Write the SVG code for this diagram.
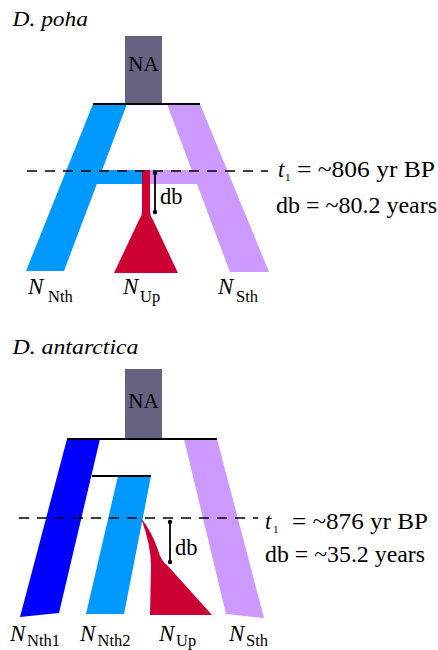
<svg xmlns="http://www.w3.org/2000/svg" width="438" height="650" viewBox="0 0 438 650">
<style>
text{font-family:"Liberation Serif","Times New Roman",serif;fill:#000}
.it{font-style:italic}
.t{font-size:22.5px}
.ttl{font-size:22px;font-style:italic}
.n{font-size:23px;font-style:italic}
.s{font-size:16.5px}
.na{fill:#646482}
.dash{stroke:#000;stroke-width:1.3;stroke-dasharray:10 8;fill:none}
.bar{stroke:#000;stroke-width:1.8;fill:none}
.db{stroke:#000;stroke-width:1.8}
</style>
<rect width="438" height="650" fill="#fff"/>

<!-- Top panel: D. poha -->
<text class="ttl" x="12.5" y="26" textLength="75.5" lengthAdjust="spacingAndGlyphs">D. poha</text>
<g id="poha-NA">
<rect class="na" x="125" y="36" width="37" height="68.5"/>
<text x="143.5" y="71" text-anchor="middle" font-size="21">NA</text>
</g>
<g id="poha-Nth">
<polygon points="93,104 127,104 64,271 26,271" fill="#0099FF"/>
<polygon points="93,170 142,170 142,184 80,184" fill="#0099FF"/>
<text class="n" x="28" y="294">N</text><text class="s" x="48" y="302">Nth</text>
</g>
<g id="poha-Sth">
<polygon points="167,104 200,104 269,272 230,272" fill="#CC99FF"/>
<polygon points="150,170 195,170 200,184 150,184" fill="#CC99FF"/>
<text class="n" x="218" y="294">N</text><text class="s" x="236" y="302">Sth</text>
</g>
<g id="poha-Up">
<path d="M142,170 L150,170 L150,211 Q150,216 153,220 L178,273 L114,273 L139,220 Q142,216 142,211 Z" fill="#CC0033"/>
<text class="n" x="123" y="294">N</text><text class="s" x="140" y="302">Up</text>
</g>
<g id="poha-connectors">
<line class="bar" x1="93" y1="104" x2="200" y2="104"/>
<line class="dash" x1="27" y1="171" x2="268" y2="171"/>
<line class="db" x1="155" y1="173" x2="155" y2="212"/>
<circle cx="155" cy="173" r="2.2"/><circle cx="155" cy="212" r="2.2"/>
<text class="t" x="160" y="204">db</text>
</g>
<g id="poha-labels">
<text class="t it" x="278" y="177">t</text><text x="285" y="181" font-size="11">1</text>
<text class="t" x="297" y="177" textLength="138" lengthAdjust="spacingAndGlyphs">= ~806 yr BP</text>
<text class="t" x="276" y="213" textLength="161" lengthAdjust="spacingAndGlyphs">db = ~80.2 years</text>
</g>

<!-- Bottom panel: D. antarctica -->
<text class="ttl" x="12.5" y="354" textLength="126" lengthAdjust="spacingAndGlyphs">D. antarctica</text>
<g id="ant-NA">
<rect class="na" x="125" y="369" width="37" height="70"/>
<text x="143.5" y="408" text-anchor="middle" font-size="21">NA</text>
</g>
<g id="ant-Nth1">
<polygon points="67,439 100,439 59,613 20,617" fill="#0000FF"/>
<text class="n" x="10" y="641">N</text><text class="s" x="27" y="645.5">Nth1</text>
</g>
<g id="ant-Nth2">
<polygon points="118,476 151,476 124,614 86,614" fill="#0099FF"/>
<text class="n" x="80" y="641">N</text><text class="s" x="97.5" y="645.5">Nth2</text>
</g>
<g id="ant-Sth">
<polygon points="184,439 217,439 264,618 226,614" fill="#CC99FF"/>
<text class="n" x="229" y="641">N</text><text class="s" x="246" y="645.5">Sth</text>
</g>
<g id="ant-Up">
<path d="M141,518 Q152,532 158,550 Q161,561 167,565 L212,615 L150,615 L151,566 Q151,545 141,518 Z" fill="#CC0033"/>
<text class="n" x="159" y="641">N</text><text class="s" x="176" y="645.5">Up</text>
</g>
<g id="ant-connectors">
<line class="bar" x1="67" y1="439" x2="217" y2="439"/>
<line class="bar" x1="92" y1="476" x2="151" y2="476"/>
<line class="dash" x1="19" y1="518" x2="258" y2="518"/>
<line class="db" x1="170" y1="522" x2="170" y2="562"/>
<circle cx="170" cy="522" r="2.2"/><circle cx="170" cy="562" r="2.2"/>
<text class="t" x="175" y="555">db</text>
</g>
<g id="ant-labels">
<text class="t it" x="265" y="529">t</text><text x="273" y="533" font-size="11">1</text>
<text class="t" x="292" y="529" textLength="136" lengthAdjust="spacingAndGlyphs">= ~876 yr BP</text>
<text class="t" x="265" y="562" textLength="160" lengthAdjust="spacingAndGlyphs">db = ~35.2 years</text>
</g>
</svg>
